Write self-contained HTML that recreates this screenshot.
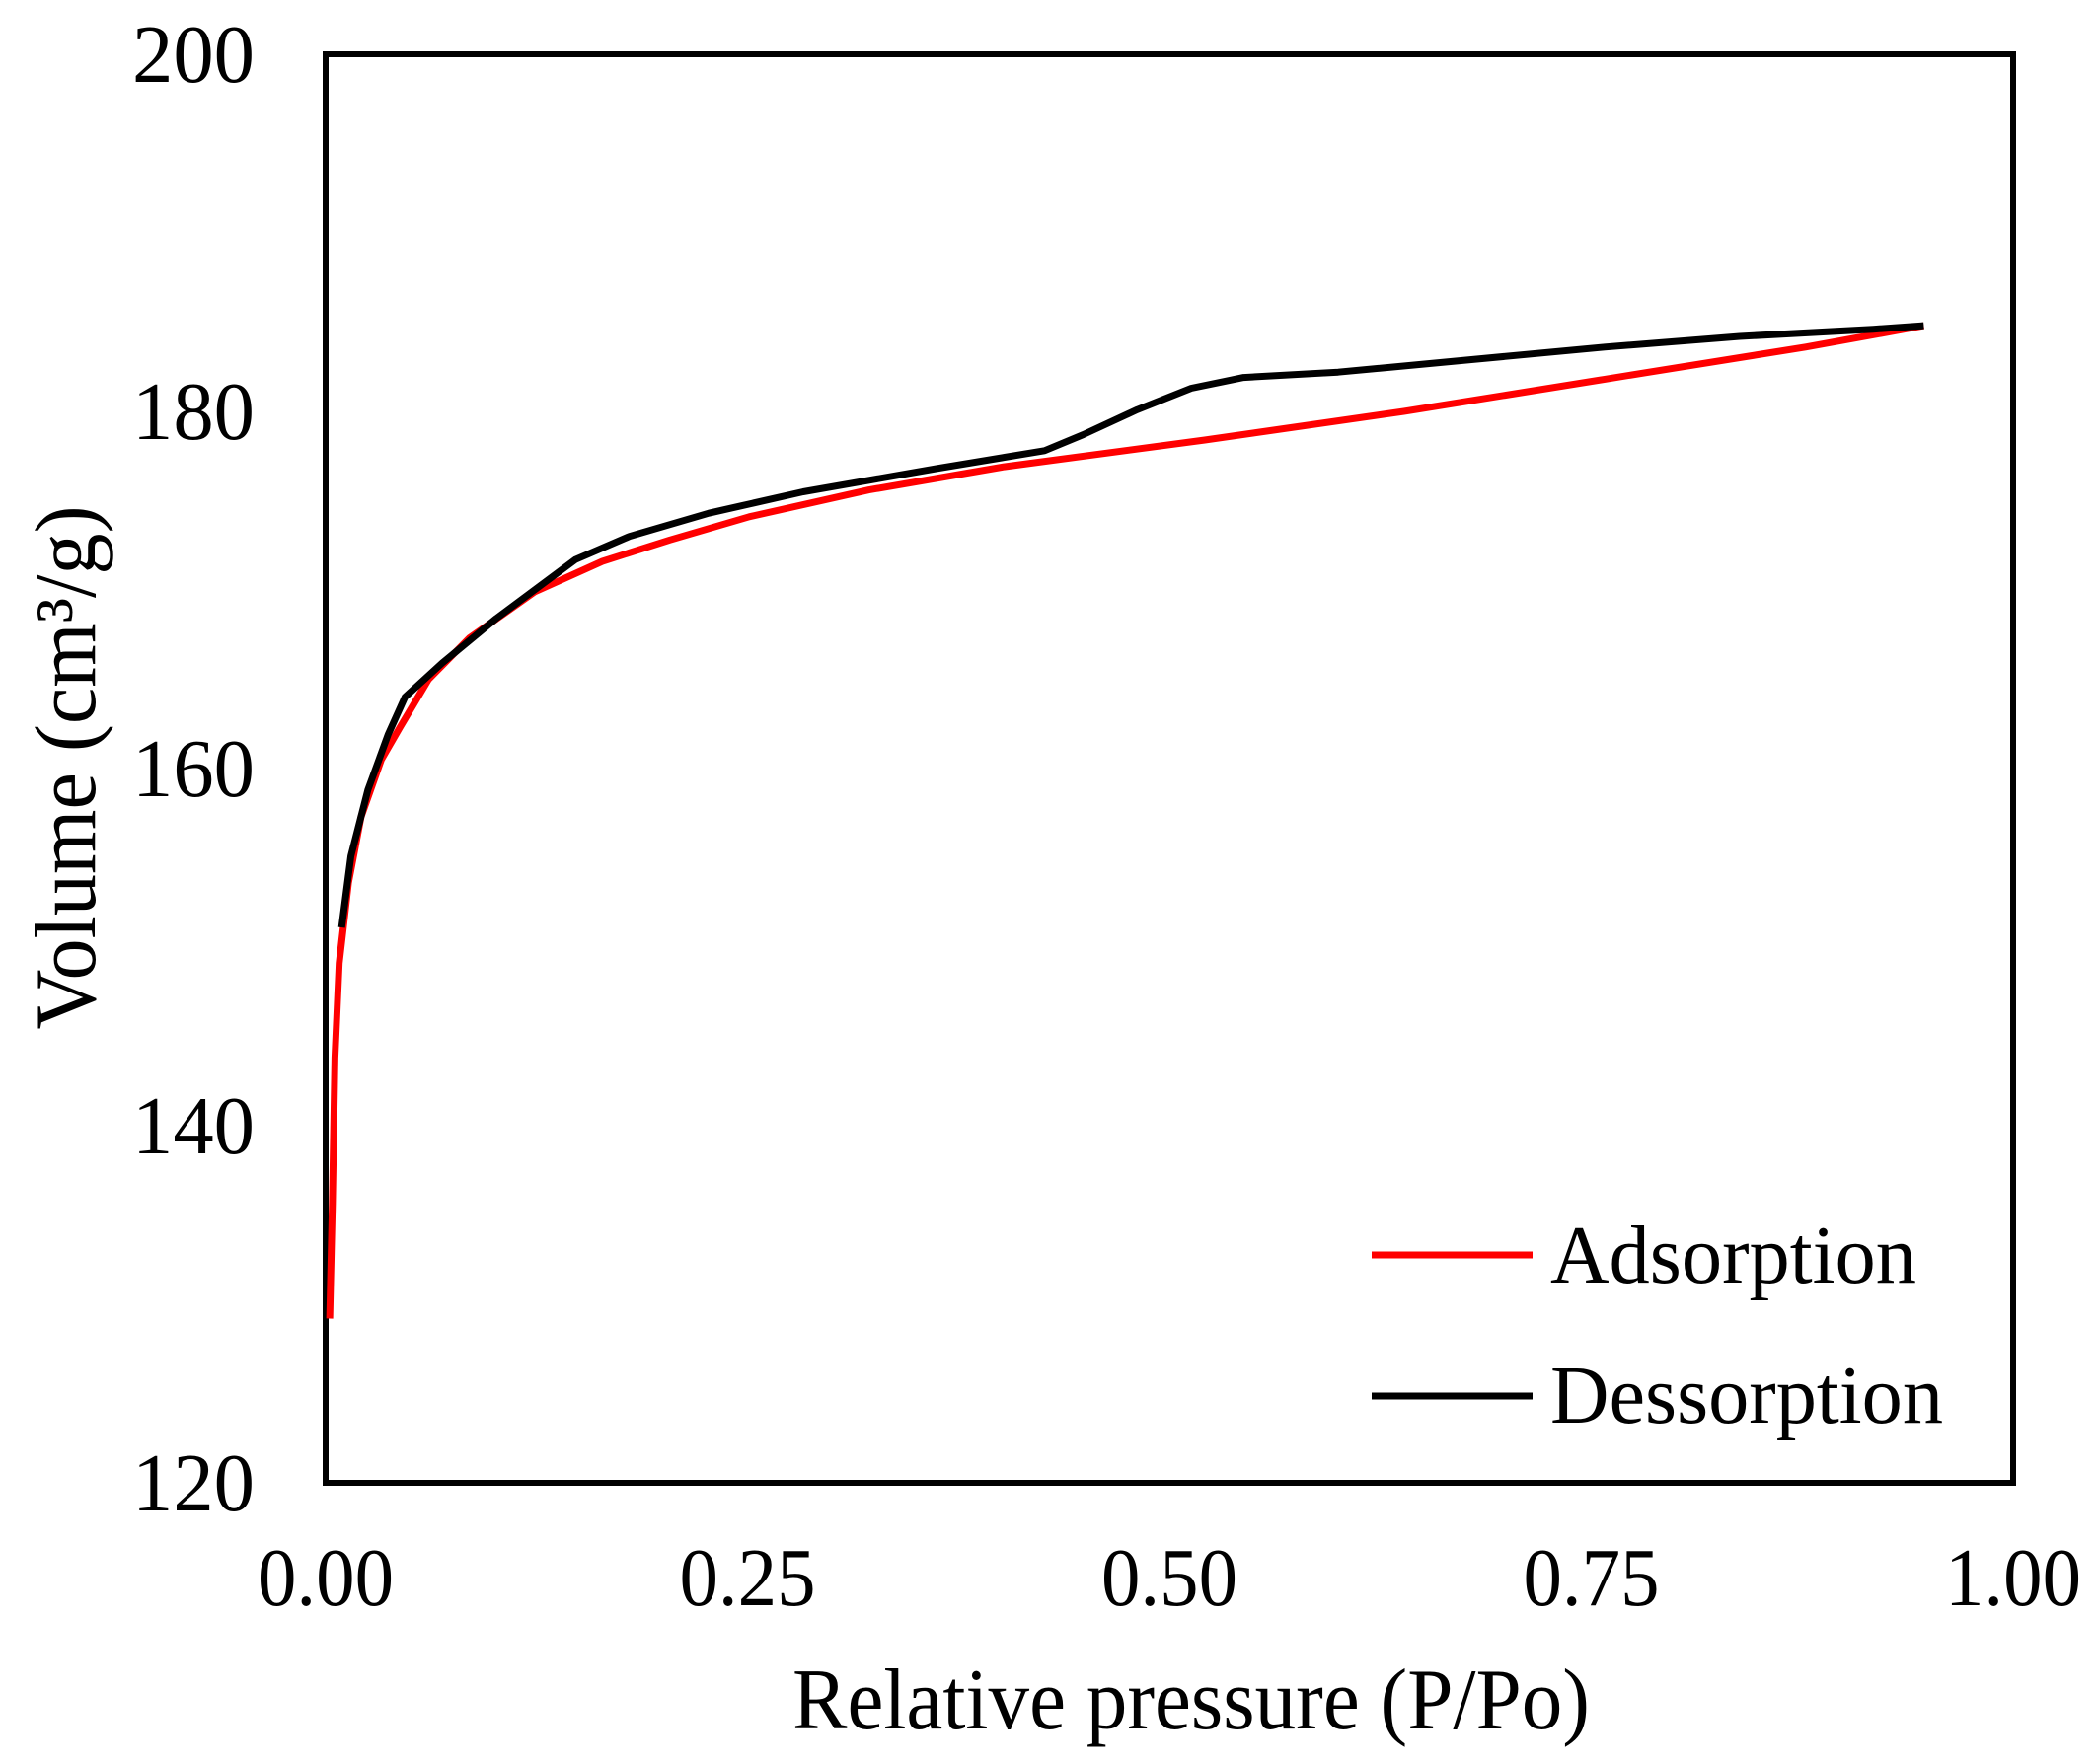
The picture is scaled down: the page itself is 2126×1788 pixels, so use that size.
<!DOCTYPE html>
<html><head><meta charset="utf-8"><style>
html,body{margin:0;padding:0;background:#fff}
svg{display:block}
text{font-family:"Liberation Serif",serif;fill:#000}
</style></head><body>
<svg id="chart" width="2126" height="1788" viewBox="0 0 2126 1788" xmlns="http://www.w3.org/2000/svg">
<rect x="330" y="55" width="1710" height="1448" fill="none" stroke="#000" stroke-width="6"/>
<g id="xticks"></g>
<g id="yticks"></g>
<g id="series"></g>
<text x="1207" y="1752" font-size="88" text-anchor="middle" textLength="808" lengthAdjust="spacingAndGlyphs">Relative pressure (P/Po)</text>
<text transform="translate(96,778) rotate(-90)" font-size="88" text-anchor="middle" textLength="531" lengthAdjust="spacingAndGlyphs">Volume (cm³/g)</text>
<g>
<line x1="1390" y1="1272" x2="1553" y2="1272" stroke="#ff0000" stroke-width="7"/>
<text x="1571" y="1300" font-size="84" textLength="371" lengthAdjust="spacingAndGlyphs">Adsorption</text>
<line x1="1390" y1="1415" x2="1553" y2="1415" stroke="#000" stroke-width="7"/>
<text x="1571" y="1442" font-size="84" textLength="398" lengthAdjust="spacingAndGlyphs">Dessorption</text>
</g>
</svg>
<script>
const xTicks=[0,0.25,0.5,0.75,1];
const xTickLabels=["0.00","0.25","0.50","0.75","1.00"];
const yTicks=[120,140,160,180,200];
const yTickLabels=["120","140","160","180","200"];
const adsP=[0.0024,0.004,0.0055,0.008,0.0135,0.021,0.033,0.044,0.061,0.085,0.124,0.164,0.204,0.251,0.322,0.402,0.521,0.639,0.758,0.877,0.947];
const adsV=[129.2,135.6,143.8,149.1,153.6,157.3,160.5,162.3,165.0,167.3,169.9,171.6,172.8,174.1,175.6,176.9,178.4,180.0,181.8,183.6,184.8];
const desP=[0.0095,0.015,0.025,0.037,0.047,0.069,0.101,0.148,0.180,0.227,0.283,0.362,0.426,0.449,0.481,0.513,0.544,0.600,0.679,0.758,0.838,0.917,0.947];
const desV=[151.1,155.1,158.8,161.9,164.0,165.9,168.4,171.7,173.0,174.3,175.5,176.8,177.8,178.7,180.1,181.3,181.9,182.2,182.9,183.6,184.2,184.6,184.8];
const NS='http://www.w3.org/2000/svg';
const X0=330,X1=2040,Y0=1503,Y1=55;
function sx(p){return X0+(p-0)/(1-0)*(X1-X0);}
function sy(v){return Y0-(v-120)/(200-120)*(Y0-Y1);}
const xg=document.getElementById('xticks');
xTicks.forEach((t,i)=>{
  const el=document.createElementNS(NS,'text');
  
  
  el.setAttribute('x',sx(t));el.setAttribute('y',1627);
  el.setAttribute('font-size','84');el.setAttribute('text-anchor','middle');
  el.setAttribute('textLength','138');el.setAttribute('lengthAdjust','spacingAndGlyphs');
  el.textContent=xTickLabels[i];xg.appendChild(el);
});
const yg=document.getElementById('yticks');
yTicks.forEach((t,i)=>{
  const el=document.createElementNS(NS,'text');
  
  
  el.setAttribute('x',258);el.setAttribute('y',sy(t)+28);
  el.setAttribute('font-size','84');el.setAttribute('text-anchor','end');
  el.setAttribute('textLength','124');el.setAttribute('lengthAdjust','spacingAndGlyphs');
  el.textContent=yTickLabels[i];yg.appendChild(el);
});
const sg=document.getElementById('series');
function line(P,V,color,name){
  const el=document.createElementNS(NS,'polyline');
  
  
  el.setAttribute('points',P.map((p,i)=>sx(p).toFixed(1)+','+sy(V[i]).toFixed(1)).join(' '));
  el.setAttribute('fill','none');el.setAttribute('stroke',color);
  el.setAttribute('stroke-width','7');el.setAttribute('stroke-linejoin','round');
  sg.appendChild(el);
}
line(adsP,adsV,'#ff0000','adsorption-line');
line(desP,desV,'#000000','dessorption-line');
</script>
</body></html>
